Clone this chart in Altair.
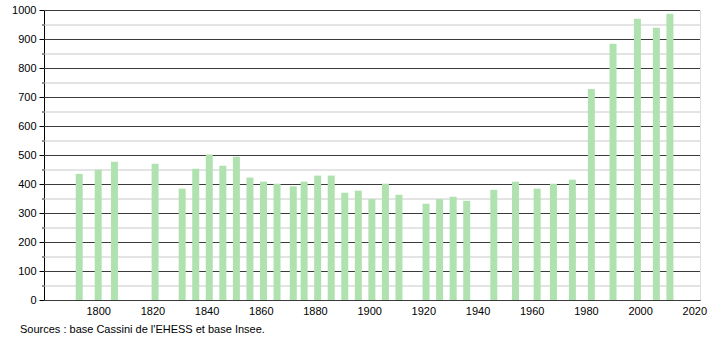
import altair as alt
import pandas as pd

years = [1793, 1800, 1806, 1821, 1831, 1836, 1841, 1846, 1851, 1856, 1861, 1866,
         1872, 1876, 1881, 1886, 1891, 1896, 1901, 1906, 1911, 1921, 1926, 1931,
         1936, 1946, 1954, 1962, 1968, 1975, 1982, 1990, 1999, 2006, 2011]
population = [435, 449, 477, 470, 384, 453, 502, 463, 494, 422, 408, 401,
              392, 408, 429, 429, 370, 377, 348, 401, 363, 332, 348, 356,
              342, 380, 408, 384, 401, 415, 728, 884, 970, 939, 987]
x_ticks = [1800, 1820, 1840, 1860, 1880, 1900, 1920, 1940, 1960, 1980, 2000, 2020]
major_y = [0, 100, 200, 300, 400, 500, 600, 700, 800, 900, 1000]
minor_y = [50, 150, 250, 350, 450, 550, 650, 750, 850, 950]
source_text = "Sources : base Cassini de l'EHESS et base Insee."

df = pd.DataFrame({"year": years, "pop": population})
major_df = pd.DataFrame({"v": major_y})
minor_df = pd.DataFrame({"v": minor_y})

FONT = "Liberation Sans"
xscale = alt.Scale(domain=[1780, 2022.1], nice=False, zero=False, padding=0)
yscale = alt.Scale(domain=[0, 1000], nice=False, padding=0)

y_axis = alt.Axis(values=major_y, format="d", title=None, grid=False,
                  ticks=True, tickSize=5, tickColor="#000000",
                  domain=True, domainColor="#000000",
                  labelFont=FONT, labelFontSize=11, labelColor="#000000",
                  labelPadding=3)
x_axis = alt.Axis(values=x_ticks, format="d", title=None, grid=False,
                  ticks=False, domain=True, domainColor="#000000",
                  labelFont=FONT, labelFontSize=11, labelColor="#000000",
                  labelPadding=5, labelFlush=False, labelOverlap=False)

minor_grid = alt.Chart(minor_df).mark_rule(color="#c8c8c8", strokeWidth=1, yOffset=0.5).encode(
    y=alt.Y("v:Q", scale=yscale, axis=y_axis)
)
minor_ticks = alt.Chart(minor_df).mark_rule(color="#222222", strokeWidth=1, yOffset=0.5).encode(
    y=alt.Y("v:Q", scale=yscale, axis=y_axis),
    x=alt.value(-2), x2=alt.value(0)
)
major_grid = alt.Chart(major_df).mark_rule(color="#3a3a3a", strokeWidth=1, yOffset=0.5).encode(
    y=alt.Y("v:Q", scale=yscale, axis=y_axis)
)

bars = alt.Chart(df).mark_bar(color="#b0e2b0", size=7).encode(
    x=alt.X("year:Q", scale=xscale, axis=x_axis),
    y=alt.Y("pop:Q", scale=yscale, axis=y_axis),
)

chart = alt.layer(minor_grid, major_grid, bars, minor_ticks).properties(
    width=656, height=290,
    title=alt.TitleParams(source_text, orient="bottom", anchor="start",
                          frame="group",
                          font=FONT, fontSize=11, fontWeight="normal",
                          color="#000000", offset=8, dx=-24),
    padding={"left": 44, "top": 10, "right": 10, "bottom": 40},
    autosize=alt.AutoSizeParams(type="none"),
).configure_view(stroke=None).configure(background="white")

chart.save("out.html", embed_options={"renderer": "svg", "actions": False})
